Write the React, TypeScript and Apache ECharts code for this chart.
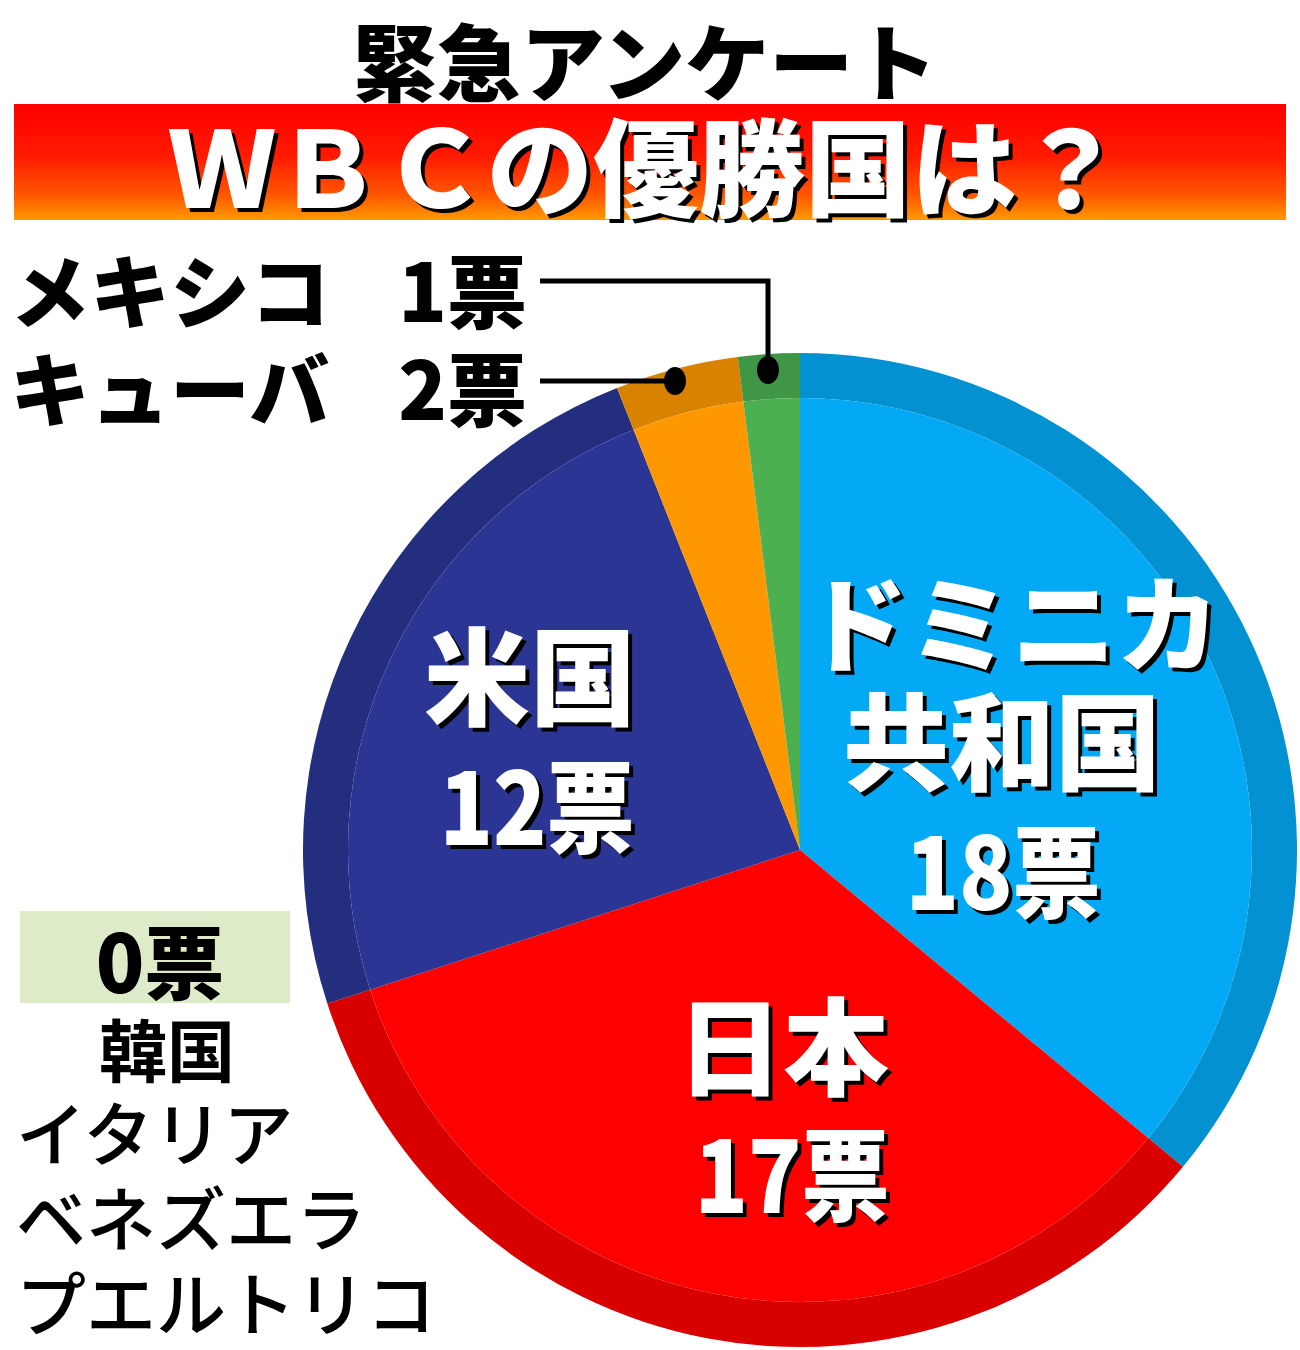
import React, { useEffect, useRef } from "react";
import * as echarts from "echarts";

const titleText = "緊急アンケート";
const bannerText = "ＷＢＣの優勝国は？";
const categories = ["ドミニカ共和国", "日本", "米国", "キューバ", "メキシコ"];
const votes = [18, 17, 12, 2, 1];
const innerColors = ["#03A9F4", "#FF0000", "#2B3594", "#FF9800", "#4CAF50"];
const outerColors = ["#0391D1", "#D90000", "#232F7E", "#D98200", "#3F9646"];
const sliceLabelLines = [["ドミニカ", "共和国"], ["日本"], ["米国"], [], []];
const zeroVoteCountries = ["韓国", "イタリア", "ベネズエラ", "プエルトリコ"];
const unit = "票";

const FONT = '"Noto Sans CJK JP", "Noto Sans", sans-serif';

function txt(text: string, x: number, y: number, size: number, fill: string, align = "center", weight: any = 900, extra: any = {}) {
  return {
    type: "text",
    x,
    y,
    z: 100,
    ...extra,
    style: {
      text,
      fontSize: size,
      fontWeight: weight,
      fontFamily: FONT,
      fill,
      align,
      verticalAlign: "middle",
    },
  };
}

function shadowTxt(text: string, x: number, y: number, size: number, align = "center", off = 4, extra: any = {}) {
  return [
    txt(text, x + off, y + off, size, "#000", align, 900, extra),
    txt(text, x, y, size, "#fff", align, 900, { ...extra, z: 101 }),
  ];
}

export default function App() {
  const ref = useRef<HTMLDivElement>(null);
  useEffect(() => {
    if (!ref.current) return;
    const chart = echarts.init(ref.current, null, { renderer: "svg" });
    const data = categories.map((c, i) => ({ name: c, value: votes[i] }));

    const graphics: any[] = [];
    // title
    graphics.push(txt(titleText, 645, 58, 84, "#000", "center", 900));
    // banner
    graphics.push({
      type: "rect",
      z: 50,
      shape: { x: 14, y: 104, width: 1272, height: 116 },
      style: {
        fill: new echarts.graphic.LinearGradient(0, 0, 0, 1, [
          { offset: 0, color: "#FF0000" },
          { offset: 0.45, color: "#FF1A00" },
          { offset: 0.8, color: "#FF5A00" },
          { offset: 1, color: "#FF9A00" },
        ]),
      },
    });
    graphics.push(...shadowTxt(bannerText, 646, 162, 106, "center", 4));

    // small-slice labels with leaders
    graphics.push(txt(categories[4], 10, 287, 80, "#000", "left"));
    graphics.push(txt(`${votes[4]}${unit}`, 527, 287, 80, "#000", "right"));
    graphics.push(txt(categories[3], 10, 385, 80, "#000", "left"));
    graphics.push(txt(`${votes[3]}${unit}`, 527, 385, 80, "#000", "right"));
    graphics.push({
      type: "polyline",
      z: 100,
      shape: { points: [[540, 281], [768, 281], [768, 370]] },
      style: { stroke: "#000", lineWidth: 5, fill: null },
    });
    graphics.push({ type: "ellipse", z: 100, shape: { cx: 768, cy: 370, rx: 11, ry: 14 }, style: { fill: "#000" } });
    graphics.push({
      type: "line",
      z: 100,
      shape: { x1: 540, y1: 381, x2: 675, y2: 381 },
      style: { stroke: "#000", lineWidth: 5 },
    });
    graphics.push({ type: "ellipse", z: 100, shape: { cx: 675, cy: 381, rx: 11, ry: 14 }, style: { fill: "#000" } });

    // inside labels
    const numScale = { scaleX: 0.88 };
    graphics.push(...shadowTxt(sliceLabelLines[0][0], 1012, 618, 104));
    graphics.push(...shadowTxt(sliceLabelLines[0][1], 1002, 736, 106));
    graphics.push(...shadowTxt(`${votes[0]}${unit}`, 1003, 866, 100, "center", 4, numScale));
    graphics.push(...shadowTxt(sliceLabelLines[2][0], 530, 671, 106));
    graphics.push(...shadowTxt(`${votes[2]}${unit}`, 537, 801, 100, "center", 4, numScale));
    graphics.push(...shadowTxt(sliceLabelLines[1][0], 783, 1041, 106));
    graphics.push(...shadowTxt(`${votes[1]}${unit}`, 792, 1169, 100, "center", 4, numScale));

    // zero votes box
    graphics.push({
      type: "rect",
      z: 50,
      shape: { x: 20, y: 911, width: 270, height: 92 },
      style: { fill: "#DDEBC9" },
    });
    graphics.push(txt(`0${unit}`, 160, 958, 80, "#000", "center", 900));
    graphics.push(txt(zeroVoteCountries[0], 167, 1047, 68, "#000", "center", 700));
    graphics.push(txt(zeroVoteCountries[1], 16, 1130, 70, "#000", "left", 500));
    graphics.push(txt(zeroVoteCountries[2], 16, 1215, 70, "#000", "left", 500));
    graphics.push(txt(zeroVoteCountries[3], 16, 1300, 70, "#000", "left", 500));

    chart.setOption({
      animation: false,
      backgroundColor: "#fff",
      series: [
        {
          type: "pie",
          z: 2,
          center: [800, 850],
          radius: [452, 497],
          startAngle: 90,
          clockwise: true,
          label: { show: false },
          labelLine: { show: false },
          silent: true,
          itemStyle: { borderWidth: 0 },
          data: data.map((d, i) => ({ ...d, itemStyle: { color: outerColors[i] } })),
        },
        {
          type: "pie",
          z: 2,
          center: [800, 850],
          radius: [0, 452],
          startAngle: 90,
          clockwise: true,
          label: { show: false },
          labelLine: { show: false },
          silent: true,
          itemStyle: { borderWidth: 0 },
          data: data.map((d, i) => ({ ...d, itemStyle: { color: innerColors[i] } })),
        },
      ],
      graphic: { elements: graphics },
    });
    return () => chart.dispose();
  }, []);
  return (
    <div
      ref={ref}
      style={{ position: "absolute", left: 0, top: 0, width: 1300, height: 1350 }}
    />
  );
}
